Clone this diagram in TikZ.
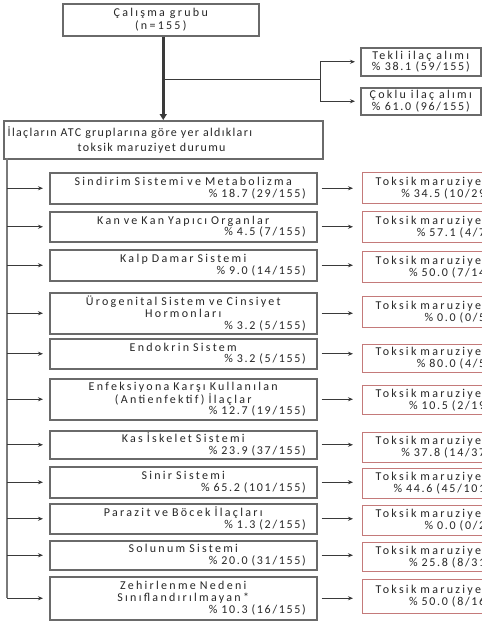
\documentclass[tikz,border=0pt]{standalone}
\usepackage{fontspec}
\setmainfont{Carlito}[LetterSpace=19]
\newfontfamily\atcfont{Carlito}[LetterSpace=11]
\newfontfamily\numfont{Carlito}[LetterSpace=14]
\newcommand{\pcline}[1]{\leavevmode\hfill{\numfont #1}}
\usetikzlibrary{arrows.meta}
\definecolor{bordergray}{HTML}{6A6A6A}
\definecolor{redline}{HTML}{C47A7A}
\definecolor{txt}{HTML}{262626}
\definecolor{arrowgray}{HTML}{3A3A3A}
\definecolor{spinegray}{HTML}{7A7A7A}
\begin{document}
\begin{tikzpicture}[x=1pt,y=-1pt,
  font=\fontsize{12}{11.8}\selectfont,
  every node/.style={text=txt},
  basebox/.style={draw=bordergray, line width=1.5pt, anchor=north west, inner ysep=0pt},
  lbox/.style={basebox, minimum width=267pt, text width=245pt, inner xsep=11pt, align=center},
  rbox/.style={draw=redline, line width=1pt, anchor=north west, inner ysep=0pt,
               minimum width=138pt, text width=118pt, inner xsep=10pt, align=center},
  larrow/.style={draw=arrowgray, line width=0.8pt, -{Stealth[length=5pt,width=4pt]}, shorten >=6pt},
  rarrow/.style={draw=arrowgray, line width=0.8pt, -{Stealth[length=5pt,width=4pt]}, shorten <=4pt, shorten >=9pt},
  spine/.style={draw=spinegray, line width=1.6pt}
]
\useasboundingbox (0,0) rectangle (482,624);
\clip (0,0) rectangle (482,624);

% top part
\node[basebox, minimum width=196pt, minimum height=32pt, align=center, font=\fontsize{12}{13}\selectfont] (top) at (62,3)
  {Çalışma grubu\\(n=155)};
\node[basebox, minimum width=319pt, minimum height=38pt, text width=311pt, inner xsep=4pt, align=left, font=\atcfont\fontsize{12}{12}\selectfont] (atc) at (3,120)
  {İlaçların ATC gruplarına göre yer aldıkları\\[3pt]\leavevmode\hspace*{70pt}toksik maruziyet durumu};
\node[basebox, minimum width=120pt, minimum height=28pt, align=center, font=\fontsize{12}{10}\selectfont] (tekli) at (360,47)
  {Tekli ilaç alımı\\{\numfont\% 38.1 (59/155)}};
\node[basebox, minimum width=120pt, minimum height=27pt, align=center, font=\fontsize{12}{10}\selectfont] (coklu) at (360,87)
  {Çoklu ilaç alımı\\{\numfont\% 61.0 (96/155)}};

\draw[draw=arrowgray, line width=2.8pt, -{Triangle[length=6pt,width=7pt]}]
  (atc.north |- top.south) -- (atc.north);
\coordinate (br) at (atc.north |- 0,79);
\coordinate (j) at (320,79);
\draw[draw=arrowgray, line width=0.8pt] (br) -- (j);
\draw[draw=arrowgray, line width=0.8pt, -{Stealth[length=5pt,width=4pt]}, shorten >=5pt] (j) |- (tekli.west);
\draw[draw=arrowgray, line width=0.8pt, -{Stealth[length=5pt,width=4pt]}, shorten >=5pt] (j) |- (coklu.west);

% left boxes
\node[lbox, minimum height=31pt] (b1) at (49,172) {Sindirim Sistemi ve Metabolizma\\\pcline{\% 18.7 (29/155)}};
\node[lbox, minimum height=30pt] (b2) at (49,211) {Kan ve Kan Yapıcı Organlar\\\pcline{\% 4.5 (7/155)}};
\node[lbox, minimum height=31pt] (b3) at (49,249) {Kalp Damar Sistemi\\\pcline{\% 9.0 (14/155)}};
\node[lbox, minimum height=41pt] (b4) at (49,292) {Ürogenital Sistem ve Cinsiyet\\Hormonları\\\pcline{\% 3.2 (5/155)}};
\node[lbox, minimum height=30pt] (b5) at (49,338) {Endokrin Sistem\\\pcline{\% 3.2 (5/155)}};
\node[lbox, minimum height=41pt] (b6) at (49,378) {Enfeksiyona Karşı Kullanılan\\(Antienfektif) İlaçlar\\\pcline{\% 12.7 (19/155)}};
\node[lbox, minimum height=28pt] (b7) at (49,430) {Kas İskelet Sistemi\\\pcline{\% 23.9 (37/155)}};
\node[lbox, minimum height=31pt] (b8) at (49,466) {Sinir Sistemi\\\pcline{\% 65.2 (101/155)}};
\node[lbox, minimum height=30pt] (b9) at (49,503) {Parazit ve Böcek İlaçları\\\pcline{\% 1.3 (2/155)}};
\node[lbox, minimum height=29pt] (b10) at (49,540) {Solunum Sistemi\\\pcline{\% 20.0 (31/155)}};
\node[lbox, minimum height=43pt] (b11) at (49,576) {Zehirlenme Nedeni\\Sınıflandırılmayan*\\\pcline{\% 10.3 (16/155)}};

% right boxes
\node[rbox, minimum height=31pt] (r1) at (362,172) {Toksik maruziyet\\\pcline{\% 34.5 (10/29)}};
\node[rbox, minimum height=31pt] (r2) at (362,211) {Toksik maruziyet\\\pcline{\% 57.1 (4/7)}};
\node[rbox, minimum height=31pt] (r3) at (362,251) {Toksik maruziyet\\\pcline{\% 50.0 (7/14)}};
\node[rbox, minimum height=31pt] (r4) at (362,296) {Toksik maruziyet\\\pcline{\% 0.0 (0/5)}};
\node[rbox, minimum height=28pt] (r5) at (362,344) {Toksik maruziyet\\\pcline{\% 80.0 (4/5)}};
\node[rbox, minimum height=29pt] (r6) at (362,385) {Toksik maruziyet\\\pcline{\% 10.5 (2/19)}};
\node[rbox, minimum height=30pt] (r7) at (362,432) {Toksik maruziyet\\\pcline{\% 37.8 (14/37)}};
\node[rbox, minimum height=30pt] (r8) at (362,468) {Toksik maruziyet\\\pcline{\% 44.6 (45/101)}};
\node[rbox, minimum height=30pt] (r9) at (362,505) {Toksik maruziyet\\\pcline{\% 0.0 (0/2)}};
\node[rbox, minimum height=29pt] (r10) at (362,542) {Toksik maruziyet\\\pcline{\% 25.8 (8/31)}};
\node[rbox, minimum height=34pt] (r11) at (362,579) {Toksik maruziyet\\\pcline{\% 50.0 (8/16)}};

% spine
\coordinate (spT) at (7,158);
\draw[spine] (spT) -- (spT |- b11.west);
\foreach \i in {1,...,11} {
  \draw[larrow] (spT |- b\i.west) -- (b\i.west);
  \draw[rarrow] (b\i.east) -- (r\i.west |- b\i.east);
}
\end{tikzpicture}
\end{document}
